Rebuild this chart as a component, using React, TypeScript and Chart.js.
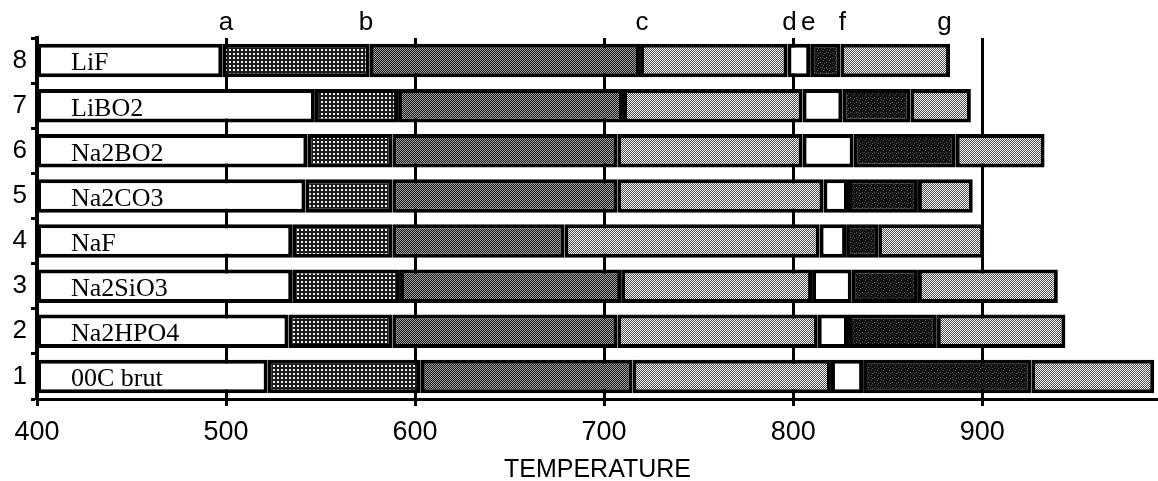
import React, { useEffect, useRef } from 'react';
import { Chart, registerables } from 'chart.js';
Chart.register(...registerables);

// Rows listed top to bottom
const rowLabels = ['8', '7', '6', '5', '4', '3', '2', '1'];
const saltNames = ['LiF', 'LiBO2', 'Na2BO2', 'Na2CO3', 'NaF', 'Na2SiO3', 'Na2HPO4', '00C brut'];

// Segment boundaries (temperature) for each row
const tStart = [400, 400, 400, 400, 400, 400, 400, 400];
const endA = [498, 547, 543, 542, 535, 535, 533, 522];
const endB = [576, 591, 588, 588, 588, 592, 588, 603];
const endC = [719, 710, 707, 707, 679, 709, 707, 715];
const endD = [797, 805, 805, 816, 814, 810, 813, 820];
const endE = [809, 826, 832, 829, 828, 831, 829, 837];
const endF = [825, 862, 886, 866, 845, 866, 876, 926];
const endG = [883, 894, 933, 895, 901, 940, 944, 991];

const xTickValues = [400, 500, 600, 700, 800, 900];
const letterLabels = ['a', 'b', 'c', 'd', 'e', 'f', 'g'];
const letterValues = [500, 574, 720, 798, 808, 826, 880];

const AXIS_FONT = 'Liberation Sans, Arial, Helvetica, sans-serif';

function makePattern(w: number, h: number, draw: (g: CanvasRenderingContext2D) => void): any {
  const c = document.createElement('canvas');
  c.width = w;
  c.height = h;
  const g = c.getContext('2d') as CanvasRenderingContext2D;
  draw(g);
  return g.createPattern(c, 'repeat');
}

function buildFills() {
  const dotted = makePattern(4, 4, (g) => {
    g.fillStyle = '#1c1c1c';
    g.fillRect(0, 0, 4, 4);
    g.fillStyle = '#f0f0f0';
    g.fillRect(1, 1, 2, 2);
  });
  const medium = makePattern(2, 2, (g) => {
    g.fillStyle = '#1a1a1a';
    g.fillRect(0, 0, 2, 2);
    g.fillStyle = '#a0a0a0';
    g.fillRect(0, 0, 1, 1);
    g.fillRect(1, 1, 1, 1);
  });
  const light = makePattern(2, 2, (g) => {
    g.fillStyle = '#fff';
    g.fillRect(0, 0, 2, 2);
    g.fillStyle = '#4a4a4a';
    g.fillRect(1, 0, 1, 1);
    g.fillRect(0, 1, 1, 1);
  });
  const dark = makePattern(6, 5, (g) => {
    g.fillStyle = '#111';
    g.fillRect(0, 0, 6, 5);
    g.fillStyle = '#555';
    g.fillRect(1, 0, 1, 1);
    g.fillRect(4, 2, 1, 1);
    g.fillRect(2, 3, 1, 1);
    g.fillStyle = '#333';
    g.fillRect(5, 4, 1, 1);
    g.fillRect(0, 2, 1, 1);
  });
  return ['#ffffff', dotted, medium, light, '#ffffff', dark, light];
}

const labelPlugin = {
  id: 'saltLabels',
  afterDatasetsDraw(chart: any) {
    const { ctx, chartArea, scales } = chart;
    ctx.save();
    ctx.font = '26px "Liberation Serif", "Times New Roman", serif';
    ctx.fillStyle = '#000';
    ctx.textBaseline = 'middle';
    ctx.textAlign = 'left';
    saltNames.forEach((n, i) => {
      const y = scales.y.getPixelForValue(i);
      ctx.fillText(n, chartArea.left + 34, y + 3);
    });
    ctx.restore();
  },
};

export default function App() {
  const ref = useRef<HTMLCanvasElement>(null);
  useEffect(() => {
    if (!ref.current) return;
    const fills = buildFills();
    const edges = [tStart, endA, endB, endC, endD, endE, endF, endG];
    const datasets = fills.map((f, k) => ({
      label: 'seg' + k,
      data: rowLabels.map((_, i) => [edges[k][i], edges[k + 1][i]]),
      backgroundColor: f,
      borderColor: '#000',
      borderWidth: 4,
      borderSkipped: false,
      grouped: false,
      barPercentage: 0.74,
      categoryPercentage: 1,
    }));
    const chart = new Chart(ref.current, {
      type: 'bar',
      data: { labels: rowLabels, datasets: datasets as any },
      plugins: [labelPlugin],
      options: {
        indexAxis: 'y',
        animation: false,
        responsive: true,
        maintainAspectRatio: false,
        layout: { padding: 0 },
        plugins: { legend: { display: false }, tooltip: { enabled: false } },
        scales: {
          x: {
            type: 'linear',
            position: 'bottom',
            min: 400,
            max: 993,
            afterBuildTicks: (s: any) => {
              s.ticks = xTickValues.map((v) => ({ value: v }));
            },
            grid: {
              color: '#000',
              lineWidth: 3,
              drawOnChartArea: true,
              drawTicks: true,
              tickLength: 7,
              tickColor: '#000',
              tickWidth: 3,
            },
            border: { display: true, color: '#000', width: 3 },
            ticks: {
              color: '#000',
              font: { family: AXIS_FONT, size: 27 },
              padding: 10,
              autoSkip: false,
              maxRotation: 0,
              minRotation: 0,
            },
            title: {
              display: true,
              text: 'TEMPERATURE',
              color: '#000',
              font: { family: AXIS_FONT, size: 25, lineHeight: 1 },
              padding: { top: 0, bottom: -2 },
            },
            afterFit: (s: any) => {
              s.height = 82;
            },
          } as any,
          xTop: {
            type: 'linear',
            position: 'top',
            min: 400,
            max: 993,
            afterBuildTicks: (s: any) => {
              s.ticks = letterValues.map((v) => ({ value: v }));
            },
            ticks: {
              callback: (_v: any, i: number) => letterLabels[i],
              color: '#000',
              font: { family: AXIS_FONT, size: 26 },
              padding: -8,
              autoSkip: false,
              maxRotation: 0,
              minRotation: 0,
            },
            grid: { display: false, drawOnChartArea: false },
            border: { display: false },
            afterFit: (s: any) => {
              s.height = 38;
            },
          } as any,
          y: {
            type: 'category',
            grid: {
              offset: true,
              drawOnChartArea: false,
              tickLength: 6,
              tickWidth: 3,
              tickColor: '#000',
            },
            border: { display: true, color: '#000', width: 4 },
            ticks: {
              color: '#000',
              font: { family: AXIS_FONT, size: 26 },
              padding: 4,
            },
            afterFit: (s: any) => {
              s.width = 37;
            },
          } as any,
        },
      },
    });
    return () => chart.destroy();
  }, []);
  return (
    <div style={{ position: 'absolute', left: 0, top: 0, width: 1158, height: 481 }}>
      <canvas ref={ref} />
    </div>
  );
}
